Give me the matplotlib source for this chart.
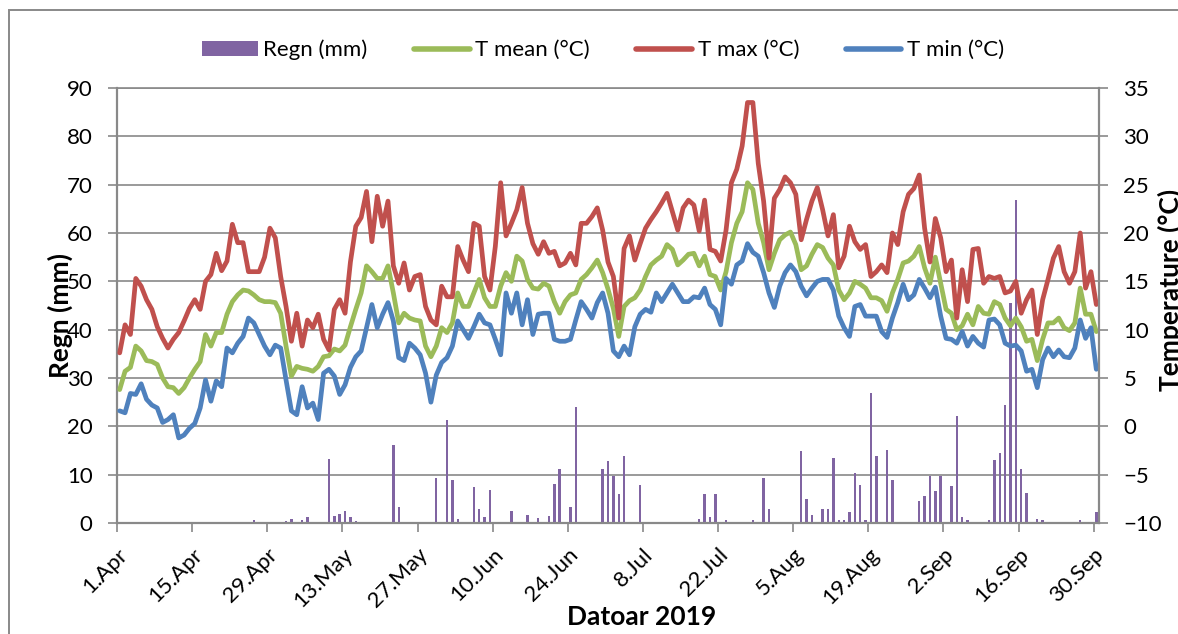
import matplotlib
matplotlib.use("Agg")
import matplotlib.pyplot as plt
import numpy as np
from matplotlib.lines import Line2D
from matplotlib.patches import Patch, Rectangle
from matplotlib.transforms import ScaledTranslation

plt.rcParams["font.family"] = ["Lato", "DejaVu Sans"]

# Daglege verdiar 1. april - 30. september 2019
regn = [
    0, 0, 0, 0, 0, 0, 0, 0, 0, 0,
    0, 0, 0, 0, 0, 0, 0, 0, 0, 0,
    0, 0, 0, 0, 0, 0.7, 0.3, 0, 0, 0,
    0, 0.5, 0.8, 0, 0.7, 1.2, 0, 0, 0, 13.2,
    1.4, 1.9, 2.4, 1.2, 0.5, 0, 0, 0, 0, 0,
    0, 16.2, 3.4, 0, 0, 0, 0, 0, 0, 9.4,
    0, 21.4, 9.0, 0.8, 0, 0, 7.4, 2.9, 1.2, 6.9,
    0, 0, 0, 2.4, 0, 0, 1.7, 0, 1.0, 0,
    1.5, 8.1, 11.2, 0, 3.3, 24.1, 0.3, 0, 0, 0,
    11.2, 12.9, 9.7, 6.1, 13.8, 0, 0.3, 7.8, 0, 0,
    0, 0, 0, 0, 0, 0, 0, 0, 0.8, 5.9,
    1.2, 6.1, 0.3, 0.7, 0, 0, 0, 0, 0.7, 0.3,
    9.4, 2.9, 0, 0, 0, 0, 0, 15.0, 5.0, 1.7,
    0, 2.8, 2.9, 13.4, 0.7, 0.7, 2.2, 10.3, 7.9, 0.6,
    26.9, 13.9, 0, 15.2, 9.0, 0.3, 0, 0, 0, 4.5,
    5.5, 9.7, 6.6, 9.8, 0, 7.7, 22.1, 1.2, 0.6, 0,
    0.3, 0, 0.6, 13.1, 14.5, 24.5, 45.5, 66.9, 11.2, 6.2,
    0, 0.8, 0.6, 0, 0, 0, 0, 0, 0, 0.6,
    0, 0, 2.2,
]

t_mean = [
    3.8, 5.7, 6.1, 8.3, 7.8, 6.8, 6.7, 6.4, 5.0, 4.1,
    4.0, 3.4, 4.0, 5.0, 5.9, 6.7, 9.5, 8.3, 9.7, 9.7,
    11.6, 12.9, 13.6, 14.1, 14.0, 13.6, 13.1, 12.9, 12.9, 12.8,
    11.7, 8.3, 5.2, 6.2, 6.0, 5.9, 5.7, 6.2, 7.2, 7.3,
    8.0, 7.8, 8.4, 10.3, 12.1, 13.8, 16.6, 16.0, 15.3, 15.3,
    16.6, 13.8, 10.7, 11.7, 11.2, 11.0, 10.9, 8.3, 7.2, 8.3,
    10.2, 9.7, 10.7, 13.8, 12.4, 12.4, 13.8, 15.2, 13.3, 12.4,
    12.4, 14.5, 15.9, 15.0, 17.6, 17.1, 15.2, 14.3, 14.2, 14.8,
    14.5, 12.9, 11.7, 12.9, 13.6, 13.8, 15.2, 15.7, 16.4, 17.2,
    15.9, 14.2, 12.2, 9.3, 12.4, 13.0, 13.3, 14.1, 15.5, 16.7,
    17.2, 17.6, 18.8, 18.3, 16.7, 17.2, 17.8, 17.9, 16.6, 17.6,
    15.7, 15.5, 14.1, 16.0, 19.0, 21.0, 22.2, 25.2, 24.5, 21.0,
    19.0, 16.2, 17.9, 19.3, 19.8, 20.1, 18.8, 16.2, 16.6, 17.8,
    18.8, 18.5, 17.4, 16.7, 14.1, 13.1, 13.8, 15.0, 14.7, 14.3,
    13.3, 13.3, 13.0, 11.9, 13.8, 15.2, 16.9, 17.1, 17.6, 18.6,
    16.4, 14.8, 17.5, 14.8, 12.1, 11.7, 10.0, 10.4, 11.6, 10.5,
    12.4, 11.7, 11.6, 12.9, 12.6, 11.2, 10.4, 11.2, 10.3, 8.8,
    9.0, 6.8, 9.0, 10.7, 10.7, 11.2, 10.2, 9.9, 10.7, 14.3,
    11.6, 11.6, 9.8,
]

t_max = [
    7.6, 10.5, 9.5, 15.3, 14.5, 13.1, 12.1, 10.3, 9.1, 8.1,
    9.0, 9.7, 10.9, 12.2, 13.1, 12.1, 15.0, 15.7, 17.9, 16.1,
    17.1, 20.9, 19.0, 19.0, 16.0, 16.0, 16.0, 17.5, 20.5, 19.5,
    15.5, 12.4, 8.8, 11.7, 8.3, 11.0, 10.2, 11.6, 9.0, 7.9,
    12.1, 13.1, 11.7, 17.0, 20.7, 21.6, 24.3, 19.1, 23.8, 20.7,
    23.3, 16.6, 14.8, 16.9, 14.1, 15.5, 15.7, 12.4, 11.0, 10.5,
    14.5, 13.4, 13.4, 18.6, 17.2, 16.0, 21.0, 20.7, 15.5, 14.1,
    18.6, 25.2, 19.7, 21.0, 22.4, 24.7, 21.0, 18.9, 17.8, 19.1,
    17.9, 18.1, 16.6, 16.9, 17.9, 16.7, 21.0, 21.0, 21.7, 22.6,
    20.3, 17.0, 15.5, 11.2, 18.4, 19.7, 17.2, 18.9, 20.5, 21.4,
    22.2, 23.1, 24.1, 22.2, 20.3, 22.6, 23.4, 22.9, 20.2, 23.4,
    18.3, 18.1, 17.1, 20.3, 25.2, 26.6, 29.0, 33.5, 33.5, 27.2,
    23.3, 17.4, 23.6, 24.5, 25.8, 25.2, 24.0, 19.3, 21.4, 23.3,
    24.7, 22.4, 19.7, 21.9, 16.4, 17.6, 20.7, 19.1, 18.3, 18.8,
    15.5, 16.0, 16.7, 15.9, 20.0, 18.8, 22.2, 24.0, 24.6, 26.0,
    20.5, 17.0, 21.5, 19.5, 16.0, 17.2, 11.2, 16.2, 12.9, 18.3,
    18.4, 14.8, 15.5, 15.3, 15.5, 13.8, 14.0, 15.0, 11.7, 13.1,
    14.1, 9.5, 13.1, 15.2, 17.4, 18.6, 16.0, 14.8, 16.0, 20.0,
    14.3, 16.0, 12.6,
]

t_min = [
    1.6, 1.4, 3.4, 3.3, 4.4, 2.8, 2.2, 1.9, 0.4, 0.7,
    1.2, -1.2, -0.9, -0.2, 0.3, 1.9, 4.8, 2.6, 4.7, 4.1,
    8.1, 7.6, 8.6, 9.3, 11.2, 10.7, 9.5, 8.3, 7.4, 8.4,
    8.1, 4.8, 1.6, 1.2, 4.1, 1.9, 2.4, 0.7, 5.5, 5.9,
    5.2, 3.3, 4.3, 6.1, 7.2, 7.8, 10.2, 12.6, 10.2, 11.6,
    12.8, 10.9, 7.1, 6.8, 8.6, 8.1, 7.4, 5.5, 2.5, 5.3,
    6.6, 7.1, 8.3, 10.9, 10.0, 9.1, 10.3, 11.6, 10.7, 10.5,
    9.0, 7.4, 13.8, 11.7, 13.8, 10.5, 13.1, 9.5, 11.6, 11.7,
    11.7, 9.0, 8.8, 8.8, 9.0, 11.0, 12.9, 12.1, 11.2, 12.8,
    13.8, 11.7, 7.8, 7.2, 8.3, 7.4, 10.3, 11.6, 12.1, 11.8,
    13.8, 12.9, 13.8, 14.7, 13.8, 12.9, 12.9, 13.4, 13.3, 14.3,
    12.6, 12.1, 10.5, 15.3, 14.7, 16.7, 17.1, 18.9, 18.0, 17.6,
    15.9, 13.8, 12.3, 14.5, 15.9, 16.7, 16.0, 14.5, 13.5, 14.3,
    15.0, 15.2, 15.2, 14.1, 11.4, 10.2, 9.3, 12.4, 12.6, 11.4,
    11.4, 11.4, 9.8, 9.2, 11.2, 12.8, 14.7, 13.1, 13.6, 15.2,
    14.3, 13.3, 14.4, 11.4, 9.1, 9.0, 8.6, 9.8, 8.3, 9.3,
    8.6, 8.2, 11.0, 11.1, 10.5, 8.6, 8.3, 8.4, 7.8, 5.7,
    5.9, 4.0, 6.9, 8.1, 7.2, 7.9, 7.2, 7.1, 8.1, 11.0,
    9.1, 10.2, 5.9,
]

dato_etikettar = ["1.Apr", "15.Apr", "29.Apr", "13.May", "27.May", "10.Jun",
                  "24.Jun", "8.Jul", "22.Jul", "5.Aug", "19.Aug", "2.Sep",
                  "16.Sep", "30.Sep"]

GRAA = "#898989"
LILLA = "#8064A2"
GROEN = "#9BBB59"
RAUD = "#C0504D"
BLAA = "#4F81BD"

W, H = 1178, 634
fig = plt.figure(figsize=(W / 100, H / 100), dpi=100)
ax = fig.add_axes([117 / W, 1 - 523 / H, (1099 - 117) / W, (523 - 88) / H])

n = len(regn)
x = np.arange(n) + 0.5

# nedbør på venstre akse
ax.bar(x, regn, width=0.45, color=LILLA, zorder=2)
ax.set_xlim(0, n)
ax.set_ylim(0, 90)
ax.set_yticks(np.arange(0, 91, 10))
ax.grid(axis="y", color=GRAA, lw=1.2, zorder=0)
ax.set_axisbelow(True)
ax.set_xticks(np.arange(0, n, 14))
ax.set_xticklabels(dato_etikettar, rotation=45, ha="right", va="top",
                   rotation_mode="anchor", fontsize=17)
flytt = ScaledTranslation(6 / 100, 0, fig.dpi_scale_trans)
for lab in ax.get_xticklabels():
    lab.set_transform(lab.get_transform() + flytt)
ax.tick_params(axis="both", direction="out", length=6.5, width=1.2,
               color=GRAA, labelsize=16, pad=11)
ax.tick_params(axis="x", pad=9)
for side in ("left", "bottom", "top"):
    ax.spines[side].set_color(GRAA)
    ax.spines[side].set_linewidth(1.6)
ax.spines["top"].set_linewidth(1.2)
ax.spines["right"].set_visible(False)

# temperaturar på høgre akse
ax2 = ax.twinx()
line_kw = dict(lw=3.4, solid_joinstyle="round", solid_capstyle="round")
ax2.plot(x, t_mean, color=GROEN, **line_kw)
ax2.plot(x, t_max, color=RAUD, **line_kw)
ax2.plot(x, t_min, color=BLAA, **line_kw)
ax2.set_ylim(-10, 35)
ax2.set_yticks(np.arange(-10, 36, 5))
ax2.tick_params(axis="y", direction="out", length=6.5, width=1.2,
                color=GRAA, labelsize=16, pad=11)
for side in ("left", "bottom", "top"):
    ax2.spines[side].set_visible(False)
ax2.spines["right"].set_color(GRAA)
ax2.spines["right"].set_linewidth(1.6)

fig.text(60 / W, 1 - 315 / H, "Regn (mm)", rotation=90, ha="center",
         va="center", fontsize=19, fontweight="bold")
fig.text(1170 / W, 1 - 290 / H, "Temperature (°C)", rotation=90, ha="center",
         va="center", fontsize=19, fontweight="bold")
fig.text(642 / W, 1 - 617 / H, "Datoar 2019", ha="center", va="center",
         fontsize=19, fontweight="bold")

handles = [
    Patch(facecolor=LILLA),
    Line2D([], [], color=GROEN, lw=4, solid_capstyle="round"),
    Line2D([], [], color=RAUD, lw=4, solid_capstyle="round"),
    Line2D([], [], color=BLAA, lw=4, solid_capstyle="round"),
]
fig.legend(handles, ["Regn (mm)", "T mean (°C)", "T max (°C)", "T min (°C)"],
           loc="center", bbox_to_anchor=(603 / W, 1 - 50 / H), ncol=4,
           frameon=False, fontsize=16, handlelength=2.5, handletextpad=0.25,
           columnspacing=2.1, handleheight=0.65)

# ramme rundt heile diagrammet
fig.add_artist(Rectangle((9 / W, -0.05), 1.2, 1 - 10 / H + 0.05,
                         transform=fig.transFigure, fill=False,
                         edgecolor=GRAA, lw=1.4))

fig.savefig("out.png", dpi=100)
